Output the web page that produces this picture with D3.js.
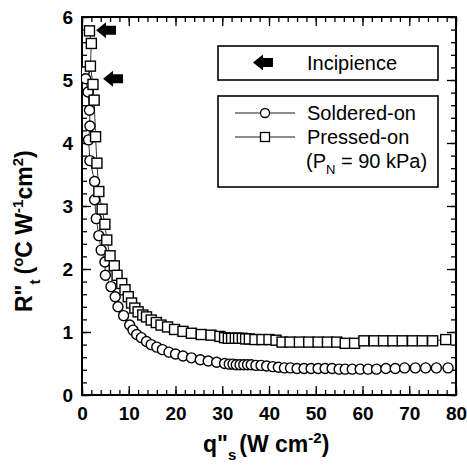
<!DOCTYPE html>
<html><head><meta charset="utf-8">
<script src="https://cdn.jsdelivr.net/npm/d3@7"></script>
<style>body{margin:0;background:#fff}svg{display:block}text{font-family:"Liberation Sans",Arial,sans-serif;fill:#000}</style>
</head><body>
<svg id="c" width="467" height="475"></svg>
<script>
// ---- data ----
const soldQ = [0.5,0.8,1.3,1.6,1.7,1.4,1.7,2.7,2.7,3.05,3.6,4.1,4.9,5.0,6.2,7.1,7.7,8.9,10.2,10.9,11.7,12.7,13.8,14.8,16.0,17.2,18.6,20.0,21.6,23.4,25.3,27.0,28.8,30.5,31.5,32.3,33.0,33.8,34.6,35.4,36.2,37.2,38.3,39.5,40.8,42.0,43.3,44.6,46.0,47.5,49.0,50.5,52.0,53.5,55.0,56.3,57.8,59.5,61.2,63.0,65.0,67.0,69.0,71.3,73.5,75.8,78.3];
const soldR = [5.13,5.02,4.81,4.52,4.27,4.05,3.72,3.39,3.10,2.80,2.53,2.30,2.11,1.90,1.72,1.56,1.40,1.26,1.11,1.03,0.96,0.91,0.85,0.80,0.76,0.72,0.68,0.65,0.62,0.59,0.56,0.54,0.52,0.50,0.49,0.49,0.48,0.48,0.48,0.48,0.48,0.47,0.47,0.46,0.45,0.44,0.43,0.43,0.42,0.42,0.42,0.42,0.42,0.42,0.41,0.41,0.41,0.41,0.41,0.41,0.42,0.42,0.43,0.43,0.43,0.43,0.43];
const pressQ = [1.6,2.0,1.8,2.35,2.6,2.9,3.2,3.6,4.3,4.9,5.3,6.0,6.9,7.5,8.5,9.2,9.9,10.6,11.3,12.0,13.0,13.8,14.8,15.9,16.9,18.3,19.8,21.6,23.4,25.5,27.6,29.5,30.5,31.3,32.0,32.8,33.5,34.3,35.0,35.8,37.0,38.5,40.0,41.5,42.8,44.5,46.5,48.5,50.5,52.5,54.5,56.3,58.3,60.3,62.5,64.5,66.5,68.5,70.7,72.8,75.0,77.8];
const pressR = [5.78,5.58,5.22,4.93,4.68,4.10,3.68,3.23,2.95,2.71,2.46,2.21,2.05,1.90,1.77,1.67,1.56,1.46,1.38,1.32,1.27,1.24,1.19,1.15,1.11,1.08,1.04,1.01,0.98,0.96,0.95,0.93,0.91,0.90,0.90,0.90,0.90,0.90,0.89,0.89,0.88,0.88,0.88,0.87,0.84,0.84,0.84,0.84,0.84,0.84,0.84,0.82,0.82,0.86,0.86,0.86,0.86,0.86,0.86,0.86,0.86,0.88];
const incipQ = [3.0, 4.5];
const incipR = [5.79, 5.02];
const xTicks = [0,10,20,30,40,50,60,70,80];
const yTicks = [0,1,2,3,4,5,6];
const xMinor = d3.range(0, 80.01, 2);
const yMinor = d3.range(0, 6.01, 0.2);

// ---- layout ----
const L = 82, R = 456, T = 17, B = 395;
const svg = d3.select("#c");
const x = d3.scaleLinear().domain([0,80]).range([L,R]);
const y = d3.scaleLinear().domain([0,6]).range([B,T]);

svg.append("defs").append("clipPath").attr("id","clip")
  .append("rect").attr("x",L).attr("y",T).attr("width",R-L).attr("height",B-T);

function styleAxis(g){ g.select(".domain").remove(); g.selectAll("line").attr("stroke","#000").attr("stroke-width",1.3); }

// minor ticks
svg.append("g").attr("transform",`translate(0,${B})`).call(d3.axisBottom(x).tickValues(xMinor).tickSize(-5).tickFormat("")).call(styleAxis);
svg.append("g").attr("transform",`translate(0,${T})`).call(d3.axisTop(x).tickValues(xMinor).tickSize(-5).tickFormat("")).call(styleAxis);
svg.append("g").attr("transform",`translate(${L},0)`).call(d3.axisLeft(y).tickValues(yMinor).tickSize(-5).tickFormat("")).call(styleAxis);
svg.append("g").attr("transform",`translate(${R},0)`).call(d3.axisRight(y).tickValues(yMinor).tickSize(-5).tickFormat("")).call(styleAxis);
// major ticks
const fmt = d3.format("d");
svg.append("g").attr("transform",`translate(0,${B})`).call(d3.axisBottom(x).tickValues(xTicks).tickSize(-9).tickPadding(12).tickFormat(fmt)).call(styleAxis)
  .selectAll("text").attr("font-size",19).attr("font-weight","bold").attr("font-family","Liberation Sans, Arial");
svg.append("g").attr("transform",`translate(0,${T})`).call(d3.axisTop(x).tickValues(xTicks).tickSize(-9).tickFormat("")).call(styleAxis);
svg.append("g").attr("transform",`translate(${L},0)`).call(d3.axisLeft(y).tickValues(yTicks).tickSize(-9).tickPadding(9).tickFormat(fmt)).call(styleAxis)
  .selectAll("text").attr("font-size",19).attr("font-weight","bold").attr("font-family","Liberation Sans, Arial");
svg.append("g").attr("transform",`translate(${R},0)`).call(d3.axisRight(y).tickValues(yTicks).tickSize(-9).tickFormat("")).call(styleAxis);

// frame
svg.append("rect").attr("x",L).attr("y",T).attr("width",R-L).attr("height",B-T)
  .attr("fill","none").attr("stroke","#000").attr("stroke-width",2);

// series
const plot = svg.append("g").attr("clip-path","url(#clip)");
const sold = soldQ.map((q,i)=>[q,soldR[i]]);
const press = pressQ.map((q,i)=>[q,pressR[i]]);
const line = d3.line().x(d=>x(d[0])).y(d=>y(d[1]));
plot.append("path").datum(sold).attr("d",line).attr("fill","none").attr("stroke","#000").attr("stroke-width",0.8);
plot.append("path").datum(press).attr("d",line).attr("fill","none").attr("stroke","#000").attr("stroke-width",0.8);
plot.selectAll("circle.s").data(sold).join("circle").attr("class","s")
  .attr("cx",d=>x(d[0])).attr("cy",d=>y(d[1])).attr("r",5)
  .attr("fill","#fff").attr("stroke","#000").attr("stroke-width",1.4);
plot.selectAll("rect.p").data(press).join("rect").attr("class","p")
  .attr("x",d=>x(d[0])-5).attr("y",d=>y(d[1])-5).attr("width",10).attr("height",10)
  .attr("fill","#fff").attr("stroke","#000").attr("stroke-width",1.4);

// incipience arrows
const arrowPath = "M0,0 L10,-8 L10,-4.5 L20,-4.5 L20,4.5 L10,4.5 L10,8 Z";
svg.selectAll("path.inc").data(incipQ.map((q,i)=>[q,incipR[i]])).join("path").attr("class","inc")
  .attr("d",arrowPath).attr("transform",d=>`translate(${x(d[0])},${y(d[1])})`).attr("fill","#000");

// legend box 1
svg.append("rect").attr("x",218).attr("y",46).attr("width",220).attr("height",34)
  .attr("fill","#fff").attr("stroke","#000").attr("stroke-width",1.6);
svg.append("path").attr("d",arrowPath).attr("transform","translate(253,62.5)").attr("fill","#000");
svg.append("text").attr("x",307).attr("y",70).attr("font-size",20).text("Incipience");

// legend box 2
svg.append("rect").attr("x",218).attr("y",96).attr("width",220).attr("height",91)
  .attr("fill","#fff").attr("stroke","#000").attr("stroke-width",1.6);
svg.append("line").attr("x1",235).attr("x2",295).attr("y1",113).attr("y2",113).attr("stroke","#000").attr("stroke-width",0.9);
svg.append("circle").attr("cx",265).attr("cy",113).attr("r",4.5).attr("fill","#fff").attr("stroke","#000").attr("stroke-width",1.3);
svg.append("text").attr("x",307).attr("y",120).attr("font-size",20).text("Soldered-on");
svg.append("line").attr("x1",235).attr("x2",295).attr("y1",137).attr("y2",137).attr("stroke","#000").attr("stroke-width",0.9);
svg.append("rect").attr("x",260.5).attr("y",132.5).attr("width",9).attr("height",9).attr("fill","#fff").attr("stroke","#000").attr("stroke-width",1.3);
svg.append("text").attr("x",307).attr("y",144).attr("font-size",20).text("Pressed-on");
const pn = svg.append("text").attr("x",306).attr("y",168).attr("font-size",20);
pn.append("tspan").text("(P");
pn.append("tspan").attr("font-size",13).attr("dy",6).text("N");
pn.append("tspan").attr("dy",-6).text(" = 90 kPa)");

// x title
const xt = svg.append("text").attr("x",203).attr("y",452).attr("font-size",23).attr("font-weight","bold");
xt.append("tspan").text("q\"");
xt.append("tspan").attr("font-size",15).attr("dx",0).attr("dy",8).text("s");
xt.append("tspan").attr("dy",-8).attr("dx",3).text("(W cm");
xt.append("tspan").attr("font-size",15).attr("dy",-9).text("-2");
xt.append("tspan").attr("dy",9).text(")");

// y title
const yt = svg.append("text").attr("transform","translate(32,312) rotate(-90)").attr("font-size",23).attr("font-weight","bold");
yt.append("tspan").text("R\"");
yt.append("tspan").attr("font-size",15).attr("dx",0).attr("dy",8).text("t");
yt.append("tspan").attr("dy",-8).attr("dx",5).text("(");
yt.append("tspan").attr("font-size",15).attr("dy",-9).text("o");
yt.append("tspan").attr("dy",9).text("C W");
yt.append("tspan").attr("font-size",15).attr("dy",-9).text("-1");
yt.append("tspan").attr("dy",9).text("cm");
yt.append("tspan").attr("font-size",15).attr("dy",-9).text("2");
yt.append("tspan").attr("dy",9).text(")");
</script>
</body></html>
